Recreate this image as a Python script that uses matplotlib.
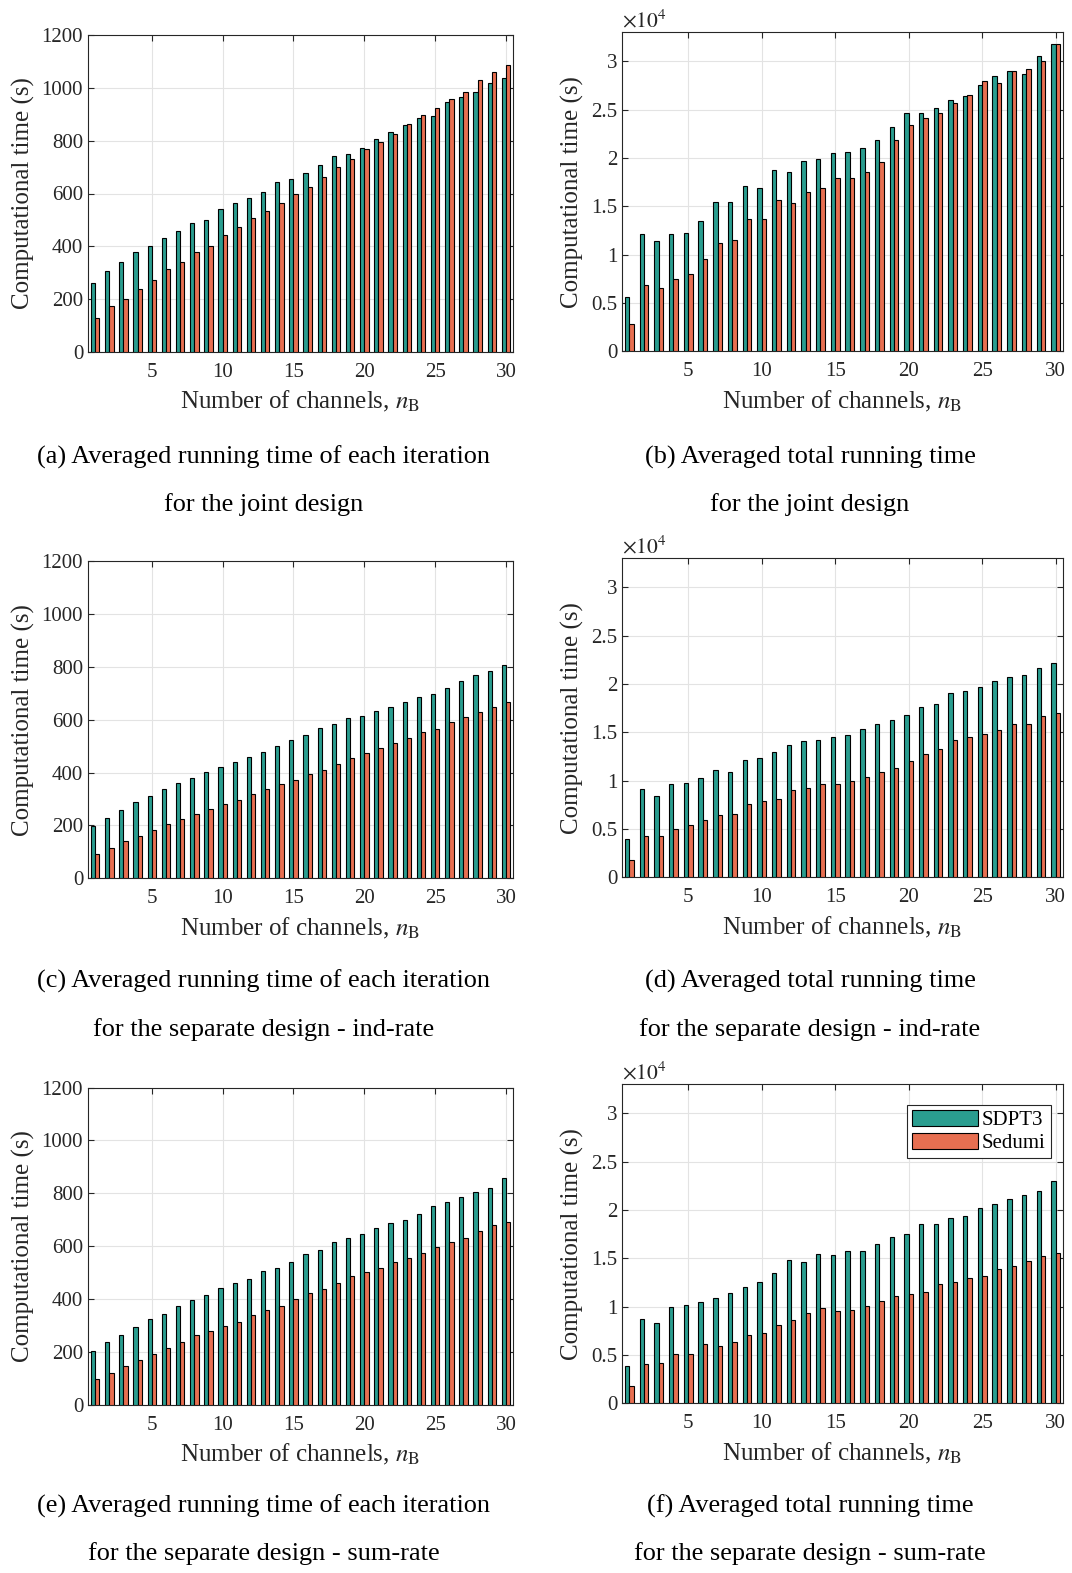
import numpy as np
import matplotlib.pyplot as plt
from matplotlib.ticker import FuncFormatter

# ------------------ DATA ------------------

channels = np.arange(1, 31)

# (a) per-iteration time, joint design (s)
a_sdpt3 = [260, 305, 340, 378, 401, 432, 459, 489, 499, 541, 563, 582, 606, 643, 654,
           678, 707, 743, 748, 774, 805, 831, 859, 884, 895, 946, 965, 984, 1018, 1037]
a_sedumi = [129, 173, 202, 240, 274, 314, 340, 378, 403, 443, 472, 507, 533, 565, 599,
            625, 663, 699, 731, 767, 794, 827, 863, 897, 922, 957, 986, 1028, 1059, 1088]

# (b) total time, joint design (x1e4 s)
b_sdpt3 = [0.56, 1.21, 1.14, 1.21, 1.22, 1.35, 1.54, 1.54, 1.71, 1.69, 1.88, 1.86, 1.97, 1.99, 2.05,
           2.06, 2.10, 2.19, 2.32, 2.47, 2.47, 2.52, 2.60, 2.64, 2.75, 2.85, 2.90, 2.87, 3.05, 3.18]
b_sedumi = [0.28, 0.69, 0.65, 0.75, 0.80, 0.95, 1.12, 1.15, 1.37, 1.37, 1.57, 1.53, 1.65, 1.69, 1.79,
            1.79, 1.85, 1.96, 2.19, 2.34, 2.41, 2.47, 2.57, 2.65, 2.80, 2.78, 2.90, 2.92, 3.00, 3.18]

# (c) per-iteration time, separate design ind-rate (s)
c_sdpt3 = [198, 227, 260, 287, 313, 338, 359, 379, 401, 421, 441, 460, 479, 500, 523,
           541, 569, 585, 608, 616, 632, 647, 666, 685, 698, 719, 745, 768, 785, 809]
c_sedumi = [93, 116, 141, 159, 183, 204, 224, 245, 262, 281, 295, 318, 339, 357, 372,
            393, 411, 431, 454, 473, 492, 514, 530, 552, 565, 590, 609, 629, 649, 667]

# (d) total time, separate design ind-rate (x1e4 s)
d_sdpt3 = [0.40, 0.91, 0.84, 0.96, 0.98, 1.03, 1.11, 1.09, 1.21, 1.23, 1.30, 1.37, 1.41, 1.42, 1.45,
           1.47, 1.53, 1.59, 1.63, 1.68, 1.76, 1.79, 1.91, 1.93, 1.97, 2.03, 2.07, 2.09, 2.17, 2.22]
d_sedumi = [0.18, 0.43, 0.43, 0.50, 0.54, 0.59, 0.64, 0.65, 0.76, 0.79, 0.81, 0.90, 0.92, 0.96, 0.97,
            1.00, 1.04, 1.09, 1.13, 1.20, 1.28, 1.33, 1.42, 1.45, 1.48, 1.52, 1.59, 1.59, 1.67, 1.70]

# (e) per-iteration time, separate design sum-rate (s)
e_sdpt3 = [204, 238, 265, 293, 323, 344, 375, 395, 414, 440, 462, 476, 505, 517, 539,
           569, 587, 617, 630, 647, 668, 689, 698, 722, 751, 766, 786, 806, 821, 857]
e_sedumi = [97, 119, 145, 167, 191, 215, 236, 262, 278, 299, 314, 338, 358, 372, 401,
            421, 438, 461, 486, 502, 517, 541, 554, 575, 596, 616, 631, 656, 678, 693]

# (f) total time, separate design sum-rate (x1e4 s)
f_sdpt3 = [0.39, 0.87, 0.83, 1.00, 1.02, 1.05, 1.09, 1.14, 1.20, 1.26, 1.35, 1.48, 1.46, 1.54, 1.53,
           1.58, 1.58, 1.65, 1.72, 1.75, 1.85, 1.85, 1.92, 1.94, 2.02, 2.06, 2.11, 2.15, 2.20, 2.30]
f_sedumi = [0.18, 0.41, 0.42, 0.51, 0.51, 0.61, 0.59, 0.63, 0.71, 0.73, 0.81, 0.86, 0.93, 0.99, 0.95,
            0.97, 1.01, 1.06, 1.11, 1.13, 1.15, 1.23, 1.26, 1.30, 1.32, 1.39, 1.42, 1.47, 1.52, 1.56]

captions = [
    ("(a) Averaged running time of each iteration", "for the joint design"),
    ("(b) Averaged total running time", "for the joint design"),
    ("(c) Averaged running time of each iteration", "for the separate design - ind-rate"),
    ("(d) Averaged total running time", "for the separate design - ind-rate"),
    ("(e) Averaged running time of each iteration", "for the separate design - sum-rate"),
    ("(f) Averaged total running time", "for the separate design - sum-rate"),
]

series_names = ["SDPT3", "Sedumi"]
col_sdpt3 = "#2a9d8f"
col_sedumi = "#e76f51"
dark = "#262626"
tick_fs = 15

# ------------------ STYLE ------------------

plt.rcParams.update({
    "font.family": ["Liberation Serif", "DejaVu Serif"],
    "mathtext.fontset": "stix",
    "axes.edgecolor": dark,
    "axes.linewidth": 0.8,
    "xtick.color": dark,
    "ytick.color": dark,
    "xtick.direction": "in",
    "ytick.direction": "in",
    "xtick.top": True,
    "ytick.right": True,
    "xtick.labelsize": tick_fs,
    "ytick.labelsize": tick_fs,
})

W, H = 1072, 1573
fig = plt.figure(figsize=(W / 100, H / 100), dpi=100)

def px_axes(left, top, width, height):
    return fig.add_axes([left / W, 1 - (top + height) / H, width / W, height / H])

panels = [
    (a_sdpt3, a_sedumi, False), (b_sdpt3, b_sedumi, True),
    (c_sdpt3, c_sedumi, False), (d_sdpt3, d_sedumi, True),
    (e_sdpt3, e_sedumi, False), (f_sdpt3, f_sedumi, True),
]

bw = 0.3
for i, (s1, s2, total) in enumerate(panels):
    row, col = divmod(i, 2)
    if col == 0:
        ax = px_axes(88, 35 + 526.3 * row, 425, 317)
    else:
        ax = px_axes(622, 32.3 + 526 * row, 441, 319)

    scale = 1e4 if total else 1.0
    v1 = np.array(s1) * scale
    v2 = np.array(s2) * scale
    ax.bar(channels - bw / 2, v1, width=bw, color=col_sdpt3, edgecolor="black",
           linewidth=0.8, label=series_names[0], zorder=3)
    ax.bar(channels + bw / 2, v2, width=bw, color=col_sedumi, edgecolor="black",
           linewidth=0.8, label=series_names[1], zorder=3)

    ax.set_xlim(0.5, 30.5)
    ax.set_xticks([5, 10, 15, 20, 25, 30])
    if total:
        ax.set_ylim(0, 3.3e4)
        ax.set_yticks(np.arange(0, 3.01e4, 0.5e4))
        ax.yaxis.set_major_formatter(FuncFormatter(lambda v, p: "%g" % (v / 1e4)))
        ax.text(0, 0.998, r"$\times10^{4}$", transform=ax.transAxes, ha="left", va="bottom",
                fontsize=15.5, color=dark)
    else:
        ax.set_ylim(0, 1200)
        ax.set_yticks(np.arange(0, 1201, 200))

    ax.grid(True, color="#e3e3e3", linewidth=0.8, zorder=0)
    ax.set_axisbelow(True)
    ax.tick_params(length=4, width=0.8)
    ax.tick_params(axis="x", pad=8)

    ax.set_xlabel(r"Number of channels, $n_{\mathrm{B}}$", fontsize=18, color=dark)
    ax.set_ylabel("Computational time (s)", fontsize=18, color=dark)
    ax.xaxis.set_label_coords(0.5, -0.118)
    if col == 0:
        ax.yaxis.set_label_coords(-0.124, 0.5)
    else:
        ax.yaxis.set_label_coords(-0.086, 0.5)

    if i == 5:
        leg = ax.legend(loc="upper right", bbox_to_anchor=(1.0, 0.975), fontsize=tick_fs,
                        handlelength=3.2, handleheight=0.8, labelspacing=0.12, borderpad=0.25,
                        handletextpad=0.15, borderaxespad=0.6, fancybox=False, framealpha=1)
        leg.get_frame().set_edgecolor(dark)
        leg.get_frame().set_linewidth(0.8)

    # caption under each panel
    cx = 263.5 if col == 0 else 810
    cy = 457 + 524.5 * row
    fig.text(cx / W, 1 - cy / H, captions[i][0], ha="center", va="center", fontsize=18.9)
    fig.text(cx / W, 1 - (cy + 48) / H, captions[i][1], ha="center", va="center", fontsize=18.9)

plt.savefig("out.png", dpi=100)
